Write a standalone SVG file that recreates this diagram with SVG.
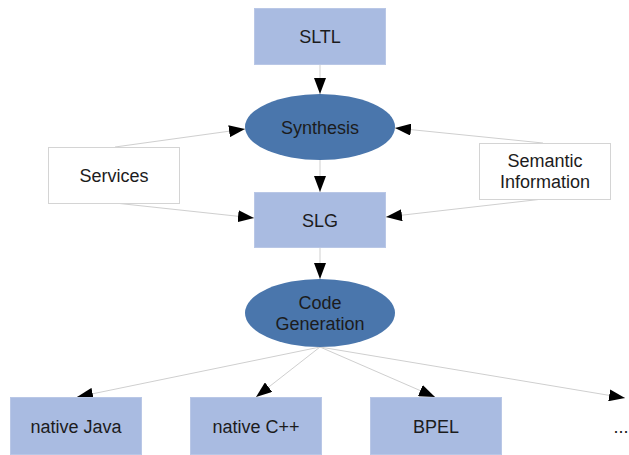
<svg xmlns="http://www.w3.org/2000/svg" width="629" height="455" viewBox="0 0 629 455">
<defs>
<marker id="ah" markerUnits="userSpaceOnUse" markerWidth="16" markerHeight="12" refX="16" refY="6" orient="auto">
<path d="M0,0 L16,6 L0,12 z" fill="#000"/>
</marker>
<style>
.box{fill:#a9bbe1;stroke:#b9c7e6;stroke-width:1}
.wbox{fill:#fff;stroke:#d4d4d4;stroke-width:1}
.ell{fill:#4a76ac}
text{font-family:"Liberation Sans",Arial,sans-serif;font-size:18px;fill:#1c1c1c;text-anchor:middle}
.edge{stroke:#cfcfcf;stroke-width:1;fill:none;marker-end:url(#ah)}
</style>
</defs>
<rect width="629" height="455" fill="#fff"/>
<g id="connectors">
<line class="edge" x1="320" y1="64" x2="320" y2="94"/>
<line class="edge" x1="320" y1="160" x2="320" y2="192"/>
<line class="edge" x1="320" y1="248" x2="320" y2="279"/>
<line class="edge" x1="115" y1="147" x2="245" y2="129"/>
<line class="edge" x1="115" y1="203" x2="254" y2="218"/>
<line class="edge" x1="543" y1="143" x2="395" y2="128"/>
<line class="edge" x1="543" y1="199" x2="386" y2="217"/>
<line class="edge" x1="320" y1="347" x2="77" y2="397"/>
<line class="edge" x1="320" y1="347" x2="256" y2="397"/>
<line class="edge" x1="320" y1="347" x2="435" y2="397"/>
<line class="edge" x1="320" y1="347" x2="625" y2="398"/>
</g>
<g id="sltl"><rect class="box" x="254.5" y="8.5" width="131" height="56"/><text x="320" y="43">SLTL</text></g>
<g id="synthesis"><ellipse class="ell" cx="320" cy="127" rx="75" ry="33"/><text x="320" y="134">Synthesis</text></g>
<g id="services"><rect class="wbox" x="48.5" y="147.5" width="131" height="56"/><text x="114" y="182">Services</text></g>
<g id="semantic"><rect class="wbox" x="479.5" y="143.5" width="131" height="56"/><text x="545" y="166.5">Semantic</text><text x="545" y="187.5">Information</text></g>
<g id="slg"><rect class="box" x="254.5" y="192.5" width="131" height="55"/><text x="320" y="227">SLG</text></g>
<g id="codegen"><ellipse class="ell" cx="320" cy="313" rx="75" ry="34"/><text x="320" y="309">Code</text><text x="320" y="329.5">Generation</text></g>
<g id="java"><rect class="box" x="10.5" y="397.5" width="131" height="57"/><text x="76" y="433">native Java</text></g>
<g id="cpp"><rect class="box" x="190.5" y="397.5" width="131" height="57"/><text x="256" y="433">native C++</text></g>
<g id="bpel"><rect class="box" x="370.5" y="397.5" width="131" height="57"/><text x="436" y="433">BPEL</text></g>
<g id="more"><text x="621" y="433">...</text></g>
</svg>
